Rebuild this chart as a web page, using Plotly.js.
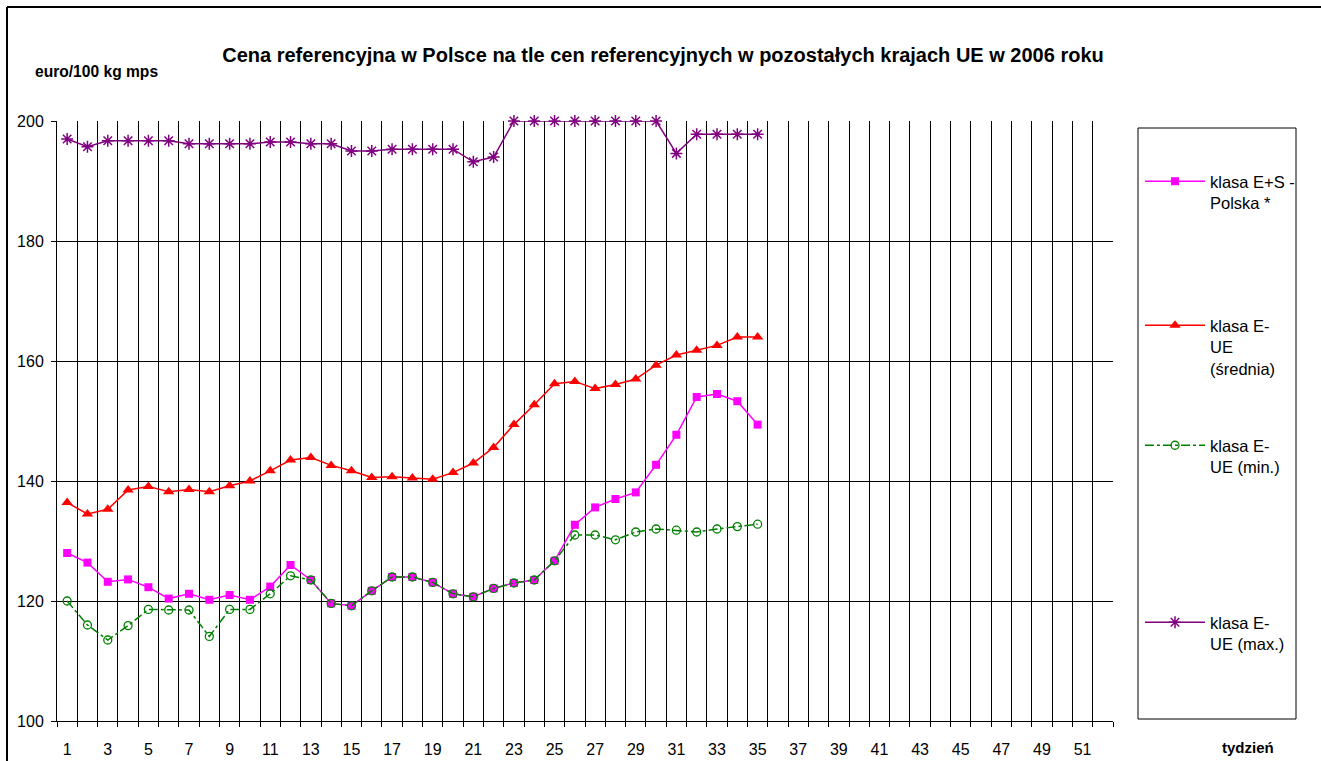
<!DOCTYPE html>
<html>
<head>
<meta charset="utf-8">
<script src="https://cdn.plot.ly/plotly-3.0.1.min.js"></script>
<style>
html,body{margin:0;padding:0;background:#fff;overflow:hidden;}
#chart{width:1321px;height:761px;position:relative;}
#frame{position:absolute;left:6px;top:6px;width:1400px;height:900px;border-left:2px solid #000;border-top:2px solid #000;pointer-events:none;}
</style>
</head>
<body>
<div id="chart"></div>
<script>
// ---- data ----
const weeks = [1,2,3,4,5,6,7,8,9,10,11,12,13,14,15,16,17,18,19,20,21,22,23,24,25,26,27,28,29,30,31,32,33,34,35];
const polska = [128.0,126.4,123.2,123.6,122.3,120.4,121.2,120.2,121.0,120.2,122.4,126.0,123.5,119.6,119.2,121.7,124.0,124.0,123.1,121.2,120.7,122.1,123.0,123.5,126.7,132.7,135.6,137.0,138.1,142.7,147.7,154.0,154.5,153.3,149.4];
const srednia = [136.4,134.5,135.3,138.5,139.1,138.2,138.6,138.2,139.2,140.0,141.7,143.5,143.9,142.6,141.7,140.6,140.7,140.5,140.3,141.4,143.0,145.6,149.4,152.7,156.2,156.6,155.4,156.1,157.0,159.3,161.0,161.8,162.6,164.0,164.0];
const minimum = [120.0,116.0,113.5,115.9,118.6,118.5,118.5,114.1,118.6,118.6,121.2,124.2,123.5,119.6,119.2,121.7,124.0,124.0,123.1,121.2,120.7,122.1,123.0,123.5,126.7,131.0,131.0,130.2,131.5,132.0,131.8,131.5,132.0,132.4,132.8];
const maximum = [197.0,195.7,196.7,196.7,196.7,196.7,196.2,196.2,196.2,196.2,196.5,196.5,196.2,196.2,195.0,195.0,195.3,195.3,195.3,195.3,193.2,194.0,200,200,200,200,200,200,200,200,194.6,197.8,197.8,197.8,197.8];
const seriesNames = ["klasa E+S -<br>Polska *","klasa E-<br>UE<br>(średnia)","klasa E-<br>UE (min.)","klasa E-<br>UE (max.)"];
const xTickVals = [1,3,5,7,9,11,13,15,17,19,21,23,25,27,29,31,33,35,37,39,41,43,45,47,49,51];
const xTickText = xTickVals.map(String);
const yTickVals = [100,120,140,160,180,200];
const boundaries = Array.from({length:53},(_,i)=>i+0.5);

const FONT = "Liberation Sans, Arial, sans-serif";

const traces = [
  {x:weeks,y:polska,name:seriesNames[0],type:'scatter',mode:'lines+markers',cliponaxis:false,
   line:{color:'#FF00FF',width:1.5},marker:{symbol:'square',size:8,color:'#FF00FF'},legend:'legend'},
  {x:weeks,y:srednia,name:seriesNames[1],type:'scatter',mode:'lines+markers',cliponaxis:false,
   line:{color:'#FF0000',width:1.5},marker:{symbol:'triangle-up',size:10,color:'#FF0000'},legend:'legend2'},
  {x:weeks,y:minimum,name:seriesNames[2],type:'scatter',mode:'lines+markers',cliponaxis:false,
   line:{color:'#008000',width:1.5,dash:'dashdot'},marker:{symbol:'circle-open',size:8,color:'#008000',line:{width:1.3,color:'#008000'}},legend:'legend3'},
  {x:weeks,y:maximum,name:seriesNames[3],type:'scatter',mode:'lines+markers',cliponaxis:false,
   line:{color:'#800080',width:1.5},marker:{symbol:'asterisk-open',size:10,color:'#800080',line:{width:1.5,color:'#800080'}},legend:'legend4'},
  // invisible helper trace so the boundary-grid axis is drawn
  {x:[boundaries[0],boundaries[boundaries.length-1]],y:[100,100],xaxis:'x2',yaxis:'y',type:'scatter',mode:'markers',
   marker:{opacity:0,size:1},showlegend:false,hoverinfo:'skip'}
];

const L=57, R=1113, T=121, B=721;
const PW=R-L, PH=B-T;
const px = v => (v-L)/PW;
const py = v => (B-v)/PH;

function leg(yTop){
  return {x:px(1140),xanchor:'left',y:py(yTop),yanchor:'top',bgcolor:'rgba(0,0,0,0)',borderwidth:0,
    font:{family:FONT,size:16.5,color:'#000'},itemwidth:60,valign:'top',tracegroupgap:0};
}

const layout = {
  width:1321,height:761,
  margin:{l:L,r:1321-R,t:T,b:761-B,pad:0},
  paper_bgcolor:'#fff',plot_bgcolor:'#fff',
  font:{family:FONT,size:16,color:'#000'},
  title:{text:'<b>Cena referencyjna w Polsce na tle cen referencyjnych w pozostałych krajach UE w 2006 roku</b>',
    font:{family:FONT,size:20,color:'#000'},xref:'container',x:663/1321,xanchor:'center',yref:'container',y:1-55/761,yanchor:'middle'},
  xaxis:{type:'linear',range:[0.5,52.5],tickmode:'array',tickvals:xTickVals,ticktext:xTickText,ticks:'',showgrid:false,
    zeroline:false,showline:true,linecolor:'#000',linewidth:1,tickfont:{family:FONT,size:16,color:'#000'},ticklabelstandoff:14},
  xaxis2:{type:'linear',overlaying:'x',anchor:'y',side:'bottom',range:[0.5,52.5],tickmode:'array',tickvals:boundaries,
    showticklabels:false,ticks:'outside',ticklen:5,tickcolor:'#000',showgrid:true,gridcolor:'#000',gridwidth:1,zeroline:false,showline:false},
  yaxis:{range:[100,200],tickmode:'array',tickvals:yTickVals,ticks:'outside',ticklen:5,tickcolor:'#000',showgrid:true,gridcolor:'#000',gridwidth:1,
    zeroline:false,showline:true,linecolor:'#000',linewidth:1,tickfont:{family:FONT,size:16,color:'#000'},ticklabelstandoff:4},
  legend:leg(164),
  legend2:leg(308),
  legend3:leg(428),
  legend4:leg(605),
  showlegend:true,
  annotations:[
    {text:'<b>euro/100 kg mps</b>',xref:'paper',yref:'paper',x:px(96),y:py(72),xanchor:'center',yanchor:'middle',showarrow:false,
     font:{family:FONT,size:15.6,color:'#000'}},
    {text:'<b>tydzień</b>',xref:'paper',yref:'paper',x:px(1248),y:py(747),xanchor:'center',yanchor:'middle',showarrow:false,
     font:{family:FONT,size:15,color:'#000'}}
  ],
  shapes:[
    {type:'rect',xref:'paper',yref:'paper',x0:px(1138),x1:px(1296),y0:py(719),y1:py(128),line:{color:'#000',width:1},fillcolor:'rgba(0,0,0,0)'},
    {type:'line',xref:'paper',yref:'paper',x0:px(7),x1:px(1330),y0:py(7),y1:py(7),line:{color:'#000',width:2}},
    {type:'line',xref:'paper',yref:'paper',x0:px(7),x1:px(7),y0:py(7),y1:py(770),line:{color:'#000',width:2}}
  ]
};

Plotly.newPlot('chart',traces,layout,{displayModeBar:false,staticPlot:true});
</script>
</body>
</html>
